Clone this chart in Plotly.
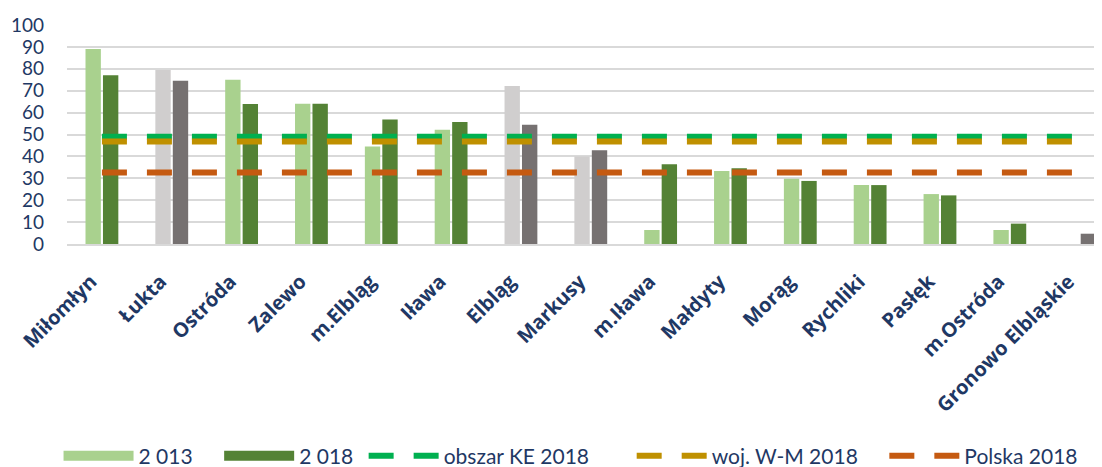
import plotly.graph_objects as go

categories = ["Miłomłyn", "Łukta", "Ostróda", "Zalewo", "m.Elbląg", "Iława", "Elbląg",
              "Markusy", "m.Iława", "Małdyty", "Morąg", "Rychliki", "Pasłęk",
              "m.Ostróda", "Gronowo Elbląskie"]
v2013 = [89, 79.5, 75, 64, 44.5, 52.2, 72.2, 40, 6.4, 33.3, 29.8, 26.9, 22.8, 6.4, 0]
v2018 = [77, 74.6, 63.9, 64, 56.9, 55.7, 54.5, 42.8, 36.4, 34.6, 28.8, 26.9, 22.2, 9.3, 4.7]
grey_cats = ["Łukta", "Elbląg", "Markusy", "Gronowo Elbląskie"]
ke2018 = 49
wm2018 = 46.8
pl2018 = 32.7
tick_vals = list(range(0, 101, 10))
series_names = ["2 013", "2 018", "obszar KE 2018", "woj. W-M 2018", "Polska 2018"]

C_L_GREEN = "#A9D18E"
C_D_GREEN = "#548235"
C_L_GREY = "#D0CECE"
C_D_GREY = "#767171"
NAVY = "#1F3864"
NB = "\u00a0"  # spacing between legend entries
legend_pad = [NB * 4, NB * 1, NB * 7, NB * 4, ""]

col2013 = [C_L_GREY if c in grey_cats else C_L_GREEN for c in categories]
col2018 = [C_D_GREY if c in grey_cats else C_D_GREEN for c in categories]

fig = go.Figure()
fig.add_trace(go.Bar(x=categories, y=v2013, name=series_names[0], showlegend=False,
                     marker=dict(color=col2013, line=dict(width=0))))
fig.add_trace(go.Bar(x=categories, y=v2018, name=series_names[1], showlegend=False,
                     marker=dict(color=col2018, line=dict(width=0))))
# legend swatches for the bar series (legend-only entries, no marks drawn)
fig.add_trace(go.Scatter(x=[None], y=[None], mode="lines", name=series_names[0] + legend_pad[0],
                         legendrank=1, line=dict(color=C_L_GREEN, width=13)))
fig.add_trace(go.Scatter(x=[None], y=[None], mode="lines", name=series_names[1] + legend_pad[1],
                         legendrank=2, line=dict(color=C_D_GREEN, width=13)))
for i, (val, col) in enumerate([(ke2018, "#00B050"), (wm2018, "#BF9000"), (pl2018, "#C55A11")]):
    fig.add_trace(go.Scatter(x=categories, y=[val] * len(categories),
                             name=series_names[2 + i] + legend_pad[2 + i], mode="lines",
                             legendrank=3 + i,
                             line=dict(color=col, width=6, dash="25px,20px")))

# the page body has an 8px margin, so the figure is 8px smaller than the window
fig.update_layout(
    width=1094, height=459,
    margin=dict(l=59, r=0, t=17, b=223, autoexpand=False),
    plot_bgcolor="white", paper_bgcolor="white",
    barmode="group", bargap=0.5, bargroupgap=0.12,
    font=dict(family="Lato", color=NAVY),
    showlegend=True,
    legend=dict(orientation="h", x=0.487, xanchor="center", y=-0.968, yanchor="middle",
                itemwidth=70,
                font=dict(family="Lato", size=21, color=NAVY)),
)
fig.update_xaxes(range=[-0.5, 14.32], tickangle=-45, showgrid=False, automargin=False,
                 showline=True, linecolor="#D9D9D9", linewidth=2,
                 ticklabelstandoff=16, ticklabelshift=-11,
                 tickfont=dict(family="Open Sans", size=20, color=NAVY, weight="bold"))
fig.update_yaxes(range=[0, 100], tickvals=tick_vals, showgrid=True, gridcolor="#D9D9D9",
                 gridwidth=2, zeroline=False, ticklabelstandoff=22, automargin=False,
                 tickfont=dict(family="Lato", size=19, color=NAVY))

fig.write_html("out.html")
